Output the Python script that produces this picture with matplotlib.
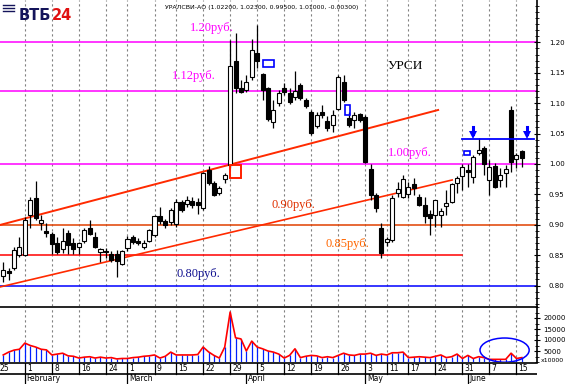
import numpy as np
import matplotlib
matplotlib.use('Agg')
import matplotlib.pyplot as plt
from matplotlib.patches import Rectangle, Ellipse

# daily candles, trading-day index 1..97
opens = [0.816, 0.823, 0.829, 0.850, 0.850, 0.916, 0.944, 0.903, 0.890, 0.885,
         0.870, 0.860, 0.887, 0.870, 0.863, 0.873, 0.895, 0.880, 0.855, 0.857,
         0.852, 0.852, 0.836, 0.862, 0.880, 0.873, 0.863, 0.873, 0.883, 0.914,
         0.906, 0.905, 0.902, 0.9375, 0.934, 0.939, 0.938, 0.928, 0.990, 0.969,
         0.952, 0.975, 0.998, 1.169, 1.125, 1.122, 1.143, 1.183, 1.148, 1.125,
         1.069, 1.100, 1.125, 1.117, 1.110, 1.130, 1.105, 1.086, 1.0625, 1.086,
         1.071, 1.064, 1.090, 1.135, 1.076, 1.072, 1.082, 1.077, 0.992, 0.949,
         0.895, 0.872, 0.875, 0.952, 0.946, 0.951, 0.967, 0.946, 0.933, 0.918,
         0.916, 0.916, 0.931, 0.9375, 0.969, 0.980, 0.990, 0.979, 1.018, 1.026,
         0.974, 0.997, 0.974, 0.985, 1.089, 1.008, 1.022]
highs = [0.839, 0.829, 0.863, 0.880, 0.913, 0.946, 0.972, 0.916, 0.903, 0.888,
         0.880, 0.895, 0.891, 0.878, 0.872, 0.895, 0.908, 0.888, 0.862, 0.862,
         0.857, 0.859, 0.859, 0.882, 0.883, 0.878, 0.875, 0.893, 0.916, 0.929,
         0.910, 0.928, 0.943, 0.941, 0.947, 0.946, 0.944, 0.987, 0.997, 0.972,
         0.964, 0.985, 1.204, 1.215, 1.138, 1.146, 1.206, 1.229, 1.150, 1.127,
         1.105, 1.122, 1.133, 1.125, 1.153, 1.133, 1.109, 1.089, 1.086, 1.097,
         1.079, 1.089, 1.146, 1.146, 1.086, 1.086, 1.084, 1.081, 1.000, 0.952,
         0.903, 0.880, 0.949, 0.970, 0.982, 0.970, 0.977, 0.951, 0.946, 0.924,
         0.941, 0.928, 0.957, 0.969, 0.980, 1.000, 1.000, 1.015, 1.043, 1.030,
         1.007, 1.002, 0.993, 0.998, 1.095, 1.018, 1.023]
lows = [0.806, 0.809, 0.826, 0.847, 0.848, 0.895, 0.908, 0.891, 0.880, 0.852,
        0.852, 0.854, 0.852, 0.852, 0.852, 0.870, 0.883, 0.862, 0.839, 0.845,
        0.839, 0.814, 0.834, 0.857, 0.868, 0.867, 0.860, 0.871, 0.880, 0.901,
        0.895, 0.900, 0.896, 0.921, 0.929, 0.928, 0.918, 0.924, 0.966, 0.947,
        0.949, 0.969, 0.993, 1.117, 1.117, 1.118, 1.138, 1.158, 1.105, 1.071,
        1.059, 1.095, 1.113, 1.099, 1.105, 1.105, 1.092, 1.048, 1.059, 1.076,
        1.054, 1.053, 1.088, 1.102, 1.061, 1.059, 1.069, 1.0016, 0.941, 0.921,
        0.845, 0.865, 0.872, 0.946, 0.944, 0.944, 0.949, 0.931, 0.903, 0.883,
        0.896, 0.896, 0.916, 0.936, 0.952, 0.957, 0.962, 0.969, 1.015, 0.982,
        0.949, 0.961, 0.962, 0.962, 0.987, 0.993, 0.995]
closes = [0.826, 0.821, 0.859, 0.863, 0.908, 0.941, 0.911, 0.908, 0.887, 0.868,
          0.855, 0.873, 0.867, 0.860, 0.870, 0.891, 0.885, 0.863, 0.860, 0.855,
          0.842, 0.840, 0.857, 0.877, 0.872, 0.870, 0.870, 0.891, 0.914, 0.906,
          0.900, 0.924, 0.938, 0.924, 0.941, 0.933, 0.933, 0.985, 0.969, 0.949,
          0.961, 0.982, 1.161, 1.125, 1.118, 1.135, 1.1875, 1.169, 1.122, 1.074,
          1.089, 1.117, 1.118, 1.102, 1.120, 1.109, 1.095, 1.051, 1.081, 1.081,
          1.059, 1.081, 1.143, 1.105, 1.064, 1.081, 1.072, 1.003, 0.949, 0.928,
          0.854, 0.877, 0.944, 0.959, 0.975, 0.962, 0.961, 0.933, 0.914, 0.911,
          0.941, 0.923, 0.936, 0.967, 0.977, 0.995, 0.987, 1.0115, 1.023, 1.000,
          0.995, 0.962, 0.982, 0.992, 1.003, 1.015, 1.010]
# volume, thousands
volume = [3.2, 4.5, 5.4, 5.8, 8.6, 7.5, 6.8, 5.8, 5.5, 3.2,
          3.6, 4.0, 2.8, 2.6, 1.8, 2.2, 2.4, 1.8, 2.2, 1.8,
          2.0, 1.4, 1.6, 1.6, 2.0, 2.2, 2.6, 2.8, 3.2, 1.8,
          2.6, 4.5, 3.2, 3.2, 3.2, 3.2, 3.4, 6.8, 4.6, 3.0,
          1.8, 6.8, 22.7, 11.0, 10.5, 5.0, 9.5, 6.8, 6.0, 5.0,
          4.5, 3.6, 1.8, 3.0, 6.0, 2.0, 2.6, 3.0, 2.8, 2.0,
          2.4, 2.0, 3.0, 4.0, 3.2, 3.0, 3.6, 3.6, 4.0, 3.0,
          3.6, 3.2, 4.2, 4.2, 4.5, 2.0, 2.2, 2.4, 2.2, 2.0,
          2.6, 3.2, 2.0, 2.4, 3.6, 1.6, 3.0, 1.6, 2.4, 2.0,
          1.2, 1.2, 1.2, 1.2, 4.0, 1.6, 2.0]

# weekly grid (trading-day index) and labels
grid_idx = [0, 5, 10, 15, 20, 24, 29, 33, 38, 43, 48, 53, 58, 63, 68, 72, 76, 81, 86, 91, 96]
grid_lbl = ['25', '1', '8', '16', '24', '1', '9', '15', '22', '29', '5', '12', '19', '26',
            '3', '11', '17', '24', '31', '7', '15']
month_idx = [5, 24, 46, 68, 87]
month_lbl = ['February', 'March', 'April', 'May', 'June']

# support / resistance levels
levels = [1.20, 1.12, 1.00, 0.90, 0.85, 0.80]
level_colors = ['#ff00ff', '#ff00ff', '#ff00ff', '#e04000', '#ff0000', '#0000ff']
level_end = [100, 100, 100, 100, 86, 100]
level_text = ['1.20руб.', '1.12руб.', '1.00руб.', '0.90руб.', '0.85руб.', '0.80руб.']
text_colors = ['#ff00ff', '#ff00ff', '#ff00ff', '#e03000', '#ff6600', '#101090']
text_x = [35.6, 32.2, 72.2, 50.7, 60.7, 33.1]
text_y = [1.2237, 1.1447, 1.0181, 0.9326, 0.8684, 0.8191]

# trend channel
upper_x = [0.4, 81.5]
upper_y = [0.8997, 1.0888]
lower_x = [0.4, 84.1]
lower_y = [0.7977, 0.9737]

W, H = 568, 384
fig = plt.figure(figsize=(W / 100, H / 100), dpi=100)
right = 537 / W
ax = fig.add_axes([0, 1 - 306 / H, right, 306 / H])
axv = fig.add_axes([0, 1 - 362 / H, right, 55 / H], sharex=ax)
axd = fig.add_axes([0, 0, right, 21 / H], sharex=ax)

x = np.arange(1, len(opens) + 1)
o = np.array(opens); c = np.array(closes)
h = np.array(highs); l = np.array(lows)

for g in grid_idx:
    ax.axvline(g, color='#808080', lw=0.8, ls=(0, (2, 2.5)), zorder=0)
    axv.axvline(g, color='#808080', lw=0.8, ls=(0, (2, 2.5)), zorder=0)

for lev, col, end in zip(levels, level_colors, level_end):
    ax.plot([0, end], [lev, lev], color=col, lw=1.1, zorder=1)
ax.plot(upper_x, upper_y, color='#ff2a00', lw=1.4, zorder=1)
ax.plot(lower_x, lower_y, color='#ff2a00', lw=1.2, zorder=1)

# candles
ax.vlines(x, l, h, color='black', lw=0.9, zorder=2)
up = c >= o
bottom = np.minimum(o, c)
height = np.maximum(np.abs(c - o), 0.0025)
ax.bar(x[up], height[up], bottom=bottom[up], width=0.75, facecolor='white',
       edgecolor='black', lw=0.8, zorder=3)
ax.bar(x[~up], height[~up], bottom=bottom[~up], width=0.75, facecolor='black',
       edgecolor='black', lw=0.8, zorder=3)

for t, col, tx, ty in zip(level_text, text_colors, text_x, text_y):
    ax.text(tx, ty, t, color=col, fontsize=9, family='Liberation Serif', va='center', ha='left')
ax.text(72.2, 1.1612, 'УРСИ', color='black', fontsize=9.5, family='Liberation Serif',
        va='center', ha='left')

# marks
ax.add_patch(Rectangle((43.0, 0.977), 2.0, 0.0214, fill=False, ec='#ff2000', lw=1.4, zorder=4))
ax.add_patch(Rectangle((49.1, 1.160), 2.0, 0.011, fill=False, ec='#0000ff', lw=1.2, zorder=4))
ax.add_patch(Rectangle((64.3, 1.081), 0.9, 0.016, fill=False, ec='#0000ff', lw=1.2, zorder=4))
ax.add_patch(Rectangle((86.3, 1.015), 1.1, 0.006, fill=False, ec='#0000ff', lw=1.2, zorder=4))
ax.plot([86, 99.3], [1.041, 1.041], color='#0000ff', lw=1.3, zorder=4)
for ai in [88, 98]:
    ax.plot([ai, ai], [1.049, 1.060], color='#0000ff', lw=2.2, zorder=5)
    ax.plot([ai], [1.047], marker='v', ms=6, color='#0000ff', mew=0, zorder=5)

ax.set_xlim(0.4, 99.8)
ax.set_ylim(0.7664, 1.2697)
for s in ['top', 'left', 'bottom']:
    ax.spines[s].set_visible(False)
ax.spines['right'].set_linewidth(1.2)
ax.yaxis.tick_right()
ax.set_yticks(np.arange(0.80, 1.201, 0.05))
ax.set_yticks(np.arange(0.77, 1.27, 0.01), minor=True)
ax.set_yticklabels(['%.2f' % v for v in np.arange(0.80, 1.201, 0.05)])
ax.tick_params(axis='y', which='major', direction='inout', length=5, labelsize=5, pad=6)
ax.tick_params(axis='y', which='minor', direction='inout', length=2.5)
ax.tick_params(axis='x', bottom=False, labelbottom=False)

# volume panel
axv.vlines(x, 0, np.array(volume) * 1000, color='#0020ff', lw=0.9, zorder=2)
axv.plot(x, np.array(volume) * 1000, color='#ff0000', lw=1.2, zorder=3)
axv.add_patch(Ellipse((93.8, 5400), 9.1, 11000, fill=False, ec='#0000ff', lw=1.1, zorder=4))
axv.set_ylim(0, 25000)
for s in ['left', 'bottom']:
    axv.spines[s].set_visible(False)
axv.spines['top'].set_linewidth(1.2)
axv.spines['right'].set_linewidth(1.2)
axv.yaxis.tick_right()
axv.set_yticks([5000, 10000, 15000, 20000])
axv.set_yticks(np.arange(0, 25001, 2500), minor=True)
axv.tick_params(axis='y', which='major', direction='inout', length=5, labelsize=5, pad=2)
axv.tick_params(axis='y', which='minor', direction='inout', length=2.5)
axv.tick_params(axis='x', bottom=False, labelbottom=False)
fig.text(541 / W, 1 - 361 / H, 'x10000', fontsize=4.5, va='center')

# date rows
axd.set_ylim(0, 1)
for s in ['left', 'bottom', 'right']:
    axd.spines[s].set_visible(False)
axd.spines['top'].set_linewidth(1.2)
axd.axhline(0.5, color='black', lw=1.2)
axd.tick_params(left=False, labelleft=False, bottom=False, labelbottom=False)
for g, t in zip(grid_idx, grid_lbl):
    axd.plot([g, g], [0.5, 1], color='black', lw=0.9)
    axd.text(g + 0.4, 0.74, t, fontsize=5.5, va='center', ha='left')
for m, t in zip(month_idx, month_lbl):
    axd.plot([m, m], [0, 0.5], color='black', lw=0.9)
    axd.text(m + 0.3, 0.24, t, fontsize=5.5, va='center', ha='left')

# header
fig.text(165 / W, 1 - 7 / H, 'УРАЛСВИ-АО (1.02200, 1.02300, 0.99500, 1.01000, -0.00300)',
         fontsize=4.5, va='center')
t1 = fig.text(19 / W, 1 - 15 / H, 'ВТБ', fontsize=10.5, fontweight='bold', color='#14145a',
              va='center')
fig.canvas.draw()
bb = t1.get_window_extent()
fig.text(bb.x1 / W + 0.5 / W, 1 - 15 / H, '24', fontsize=10.5, fontweight='bold',
         color='#e01010', va='center')
for k in range(3):
    yy = 1 - (5 + 3 * k) / H
    fig.lines.append(plt.Line2D([3 / W, 14 / W], [yy, yy], color='#14145a', lw=1.0,
                                transform=fig.transFigure))

fig.savefig('out.png', dpi=100)
